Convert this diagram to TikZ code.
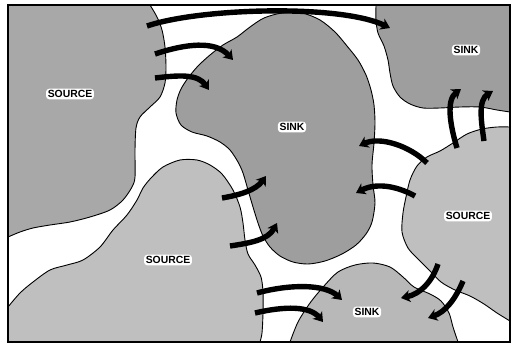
\documentclass[tikz,border=0pt]{standalone}
\usepackage{fontspec}
\setmainfont{Liberation Sans}
\usetikzlibrary{arrows.meta}

\tikzset{
  region/.style={draw=black, line width=0.9pt, line join=round},
  sinkfill/.style={region, fill=black!38},
  srcfill/.style={region, fill=black!34},
  srclight/.style={region, fill=black!25},
  sinklight/.style={region, fill=black!28},
  flow/.style={line width=5.4pt, line cap=butt,
    -{Stealth[length=9pt, width=12pt, inset=2.5pt]}},
  tag/.style={fill=white, rounded corners=3pt, inner sep=1.6pt,
    font=\fontsize{10.4}{12}\selectfont\bfseries}
}

\begin{document}
\begin{tikzpicture}[x=1pt, y=-1pt]
  \useasboundingbox (0,0) rectangle (514,345);
  \fill[white] (0,0) rectangle (514,345);

  % upper left source
  \filldraw[srcfill] (8,5) -- plot[smooth] coordinates {
    (150,5) (157,17) (162,30) (165,47) (166,67) (165,83) (160,97)
    (150,107) (140,117) (136,128) (135,150) (135,177) (132,187)
    (123,200) (110,210) (90,217) (70,222) (50,225) (33,228) (20,232) (8,237)}
    -- cycle;

  % lower left source
  \filldraw[srclight] (8,342) -- plot[smooth] coordinates {
    (8,307) (20,293) (33,282) (50,270) (67,265) (83,260) (100,247)
    (113,230) (127,215) (137,200) (143,188) (151,178) (163,167) (180,160)
    (197,160) (210,165) (222,174) (233,190) (240,207) (243,223) (245,240)
    (248,254) (255,265) (261,277) (263,292) (263,313) (262,333) (260,342)}
    -- cycle;

  % central sink
  \filldraw[sinkfill] plot[smooth cycle] coordinates {
    (375,203) (372,222) (366,234) (356,245) (342,254) (325,261) (308,264)
    (293,262) (280,256) (270,247) (263,236) (258,223) (253,207) (248,190)
    (243,173) (238,162) (230,150) (220,142) (207,136) (192,132) (181,125)
    (176,113) (177,100) (181,89) (188,78) (198,66) (210,55) (223,45)
    (237,37) (250,27) (264,18) (282,13) (302,13) (320,20) (335,32)
    (347,46) (358,60) (366,75) (371,90) (374,105) (375,123) (374,143)
    (372,165) (373,185)};

  % upper right sink
  \filldraw[sinkfill] (510,5) -- plot[smooth] coordinates {
    (376,5) (376,20) (378,33) (384,46) (388,60) (390,73) (393,86)
    (400,97) (410,104) (423,108) (440,108) (460,107) (480,107)
    (497,110) (510,112)} -- cycle;

  % right source
  \filldraw[srclight] plot[smooth] coordinates {
    (510,127) (497,127) (482,129) (467,134) (453,143) (440,151)
    (427,157) (417,166) (410,180) (406,197) (403,213) (402,232)
    (408,248) (418,259) (429,270) (441,282) (455,290) (470,296)
    (484,304) (497,313) (510,321)} -- cycle;

  % lower sink
  \filldraw[sinklight] plot[smooth] coordinates {
    (290,342) (298,322) (310,303) (324,286) (338,272) (355,265)
    (373,263) (390,267) (403,277) (414,287) (430,294) (441,301)
    (449,313) (453,327) (458,342)} -- cycle;

  % flow arrows, tail to tip
  \coordinate (t1) at (147,26);  \coordinate (h1) at (390,28);
  \coordinate (t2) at (155,54);  \coordinate (h2) at (233,60);
  \coordinate (t3) at (155,78);  \coordinate (h3) at (209,90);
  \coordinate (t4) at (222,198); \coordinate (h4) at (266,176);
  \coordinate (t5) at (230,246); \coordinate (h5) at (277,223);
  \coordinate (t6) at (257,293); \coordinate (h6) at (342,300);
  \coordinate (t7) at (255,313); \coordinate (h7) at (323,322);
  \coordinate (t8) at (438,264); \coordinate (h8) at (401,298);
  \coordinate (t9) at (463,281); \coordinate (h9) at (428,318);
  \coordinate (t10) at (427,163); \coordinate (h10) at (359,146);
  \coordinate (t11) at (415,196); \coordinate (h11) at (356,193);
  \coordinate (t12) at (457,148); \coordinate (h12) at (461,89);
  \coordinate (t13) at (484,141); \coordinate (h13) at (493,91);

  \draw[flow] (t1) .. controls (200,8) and (340,4) .. (h1);
  \draw[flow] (t2) .. controls (185,44) and (215,40) .. (h2);
  \draw[flow] (t3) .. controls (180,75) and (198,74) .. (h3);
  \draw[flow] (t4) .. controls (240,195) and (256,190) .. (h4);
  \draw[flow] (t5) .. controls (250,243) and (268,240) .. (h5);
  \draw[flow] (t6) .. controls (290,284) and (325,284) .. (h6);
  \draw[flow] (t7) .. controls (285,306) and (310,306) .. (h7);
  \draw[flow] (t8) .. controls (432,282) and (420,294) .. (h8);
  \draw[flow] (t9) .. controls (455,300) and (445,312) .. (h9);
  \draw[flow] (t10) .. controls (410,146) and (380,136) .. (h10);
  \draw[flow] (t11) .. controls (395,185) and (375,183) .. (h11);
  \draw[flow] (t12) .. controls (450,125) and (446,100) .. (h12);
  \draw[flow] (t13) .. controls (481,120) and (478,100) .. (h13);

  % labels
  \node[tag] (srcA) at (70,94)   {SOURCE};
  \node[tag] (snkA) at (292,127) {SINK};
  \node[tag] (snkB) at (466,50)  {SINK};
  \node[tag] (srcB) at (168,260) {SOURCE};
  \node[tag] (srcC) at (468,216) {SOURCE};
  \node[tag] (snkC) at (367,312) {SINK};

  % outer frame
  \draw[line width=1.6pt] (8,5) rectangle (510,342);
\end{tikzpicture}
\end{document}
